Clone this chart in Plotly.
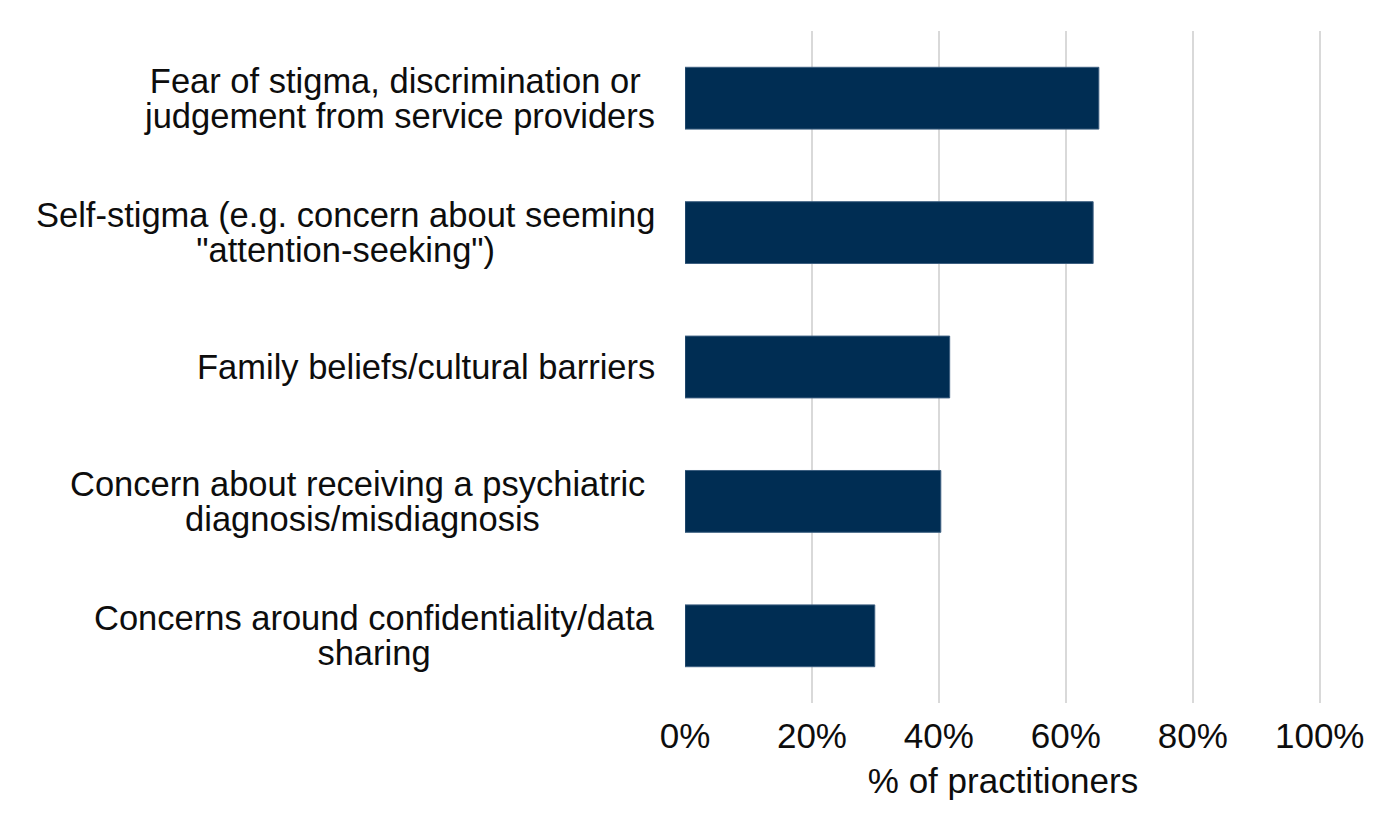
import plotly.graph_objects as go

categories = [
    "Fear of stigma, discrimination or <br>judgement from service providers",
    "Self-stigma (e.g. concern about seeming<br>\"attention-seeking\")",
    "Family beliefs/cultural barriers",
    "Concern about receiving a psychiatric <br>diagnosis/misdiagnosis",
    "Concerns around confidentiality/data<br>sharing",
]
values = [0.652, 0.643, 0.417, 0.403, 0.299]
x_ticks = [0, 0.2, 0.4, 0.6, 0.8, 1.0]

FONT = "Liberation Sans, Arial, sans-serif"
BAR = "#002D53"
TXT = "#0d0d0d"

fig = go.Figure()
fig.add_trace(go.Bar(
    x=values, y=list(range(len(categories))), orientation="h",
    marker=dict(color=BAR, line=dict(color="#3d5f80", width=1)),
    width=0.46, hoverinfo="x",
))

for i, c in enumerate(categories):
    lines = c.split("<br>")
    txt = "<br>".join('<span style="font-size:34.5px">%s</span>' % ln for ln in lines)
    fig.add_annotation(
        x=0, xref="paper", y=i, yref="y", text=txt, showarrow=False,
        xanchor="right", yanchor="middle", xshift=-28, align="center",
        font=dict(family=FONT, size=27, color=TXT),
    )

fig.update_layout(
    width=1390, height=814,
    margin=dict(l=677, r=77, t=23, b=119),
    paper_bgcolor="white", plot_bgcolor="white",
    showlegend=False,
    font=dict(family=FONT, size=34, color=TXT),
    xaxis=dict(
        range=[0, 1.002], tickvals=x_ticks, tickformat=".0%",
        showgrid=True, gridcolor="#d9d9d9", gridwidth=1.5,
        zeroline=False, showline=False,
        ticks="outside", ticklen=2, tickcolor="rgba(0,0,0,0)",
        tickfont=dict(family=FONT, size=35, color=TXT),
        title=dict(text="% of practitioners", standoff=14,
                   font=dict(family=FONT, size=35, color=TXT)),
    ),
    yaxis=dict(
        range=[len(categories) - 0.5, -0.5],
        showticklabels=False, showgrid=False, zeroline=False, showline=False,
    ),
)

fig.write_html("out.html")
